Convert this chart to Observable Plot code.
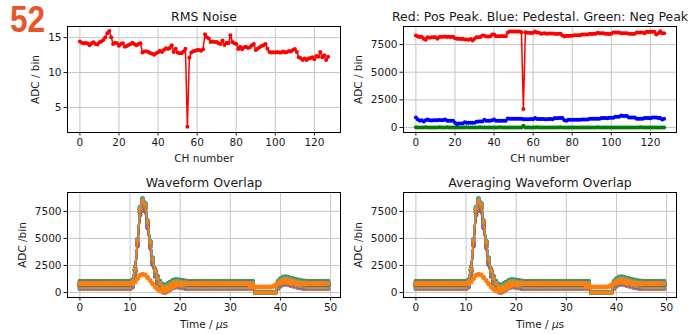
<!DOCTYPE html>
<html><head><meta charset="utf-8">
<script src="https://cdn.jsdelivr.net/npm/d3@7"></script>
<script src="https://cdn.jsdelivr.net/npm/@observablehq/plot@0.6"></script>
<style>
body{margin:0;background:#fff;}
#root{position:relative;width:693px;height:334px;overflow:hidden;background:#fff;}
.panel{position:absolute;}
#badge{position:absolute;left:10px;top:2px;font:bold 36px/36px "Liberation Sans",Arial,sans-serif;color:#e9552b;transform:scaleX(0.88);transform-origin:0 0;}
</style></head><body><div id="root"></div><script>
// ---------- data ----------
const rmsNoise = [14.43,14.28,14.2,14.23,14.14,13.9,14.19,14.33,14.09,14.0,
14.33,14.43,14.67,15.05,15.62,15.96,15.05,14.09,14.28,14.19,
13.85,14.09,14.19,13.7,13.8,13.95,14.09,14.28,14.04,13.9,
14.09,14.19,12.85,13.0,13.04,12.94,12.8,12.7,12.56,12.75,
12.9,13.13,12.94,13.23,13.47,13.37,13.52,13.9,12.94,13.42,
12.85,12.75,12.75,13.0,13.42,2.22,12.13,12.85,13.04,13.13,
13.23,13.23,13.13,13.33,15.48,15.05,14.86,14.38,14.43,14.38,
14.38,14.19,14.09,14.57,13.95,14.28,14.19,15.33,14.38,14.19,
14.09,13.37,13.7,13.33,13.61,13.7,13.52,13.61,13.9,14.09,
13.23,13.42,13.61,13.8,13.9,14.09,13.42,12.94,12.85,12.9,
12.85,12.94,12.85,12.85,13.0,12.85,12.94,13.09,13.0,13.23,
13.37,12.94,12.18,12.03,11.79,11.99,11.79,11.99,12.08,12.18,
11.89,12.37,12.27,12.94,12.18,12.46,11.79,12.27];

const posPeak = [8316,8230,8180,8200,8013,7923,8165,8104,8165,8150,
8170,8013,8190,8210,8200,8220,8190,8195,8180,8200,
8074,8013,8030,8000,8020,7950,7960,7930,8010,7862,
8013,8165,8150,8180,8316,8290,8225,8230,8220,8407,
8400,8255,8260,8250,8270,8255,8250,8588,8679,8670,
8680,8679,8670,8690,8618,1663,8618,8558,8560,8550,
8558,8679,8600,8560,8467,8500,8520,8480,8510,8500,
8490,8470,8460,8470,8467,8316,8225,8290,8280,8300,
8290,8346,8340,8350,8346,8407,8400,8410,8407,8467,
8460,8470,8467,8558,8530,8520,8528,8467,8470,8460,
8467,8588,8580,8590,8588,8530,8520,8528,8530,8467,
8470,8460,8467,8588,8580,8590,8588,8528,8649,8640,
8650,8649,8660,8407,8528,8709,8528,8528];

const pedestal = [907,726,605,665,544,665,726,650,640,650,
660,665,670,665,680,726,605,600,610,605,
423,302,363,370,363,484,423,430,420,423,
423,514,544,540,544,695,605,600,610,665,
726,605,600,610,605,600,605,816,786,790,
786,780,786,790,786,756,756,750,756,760,
756,847,770,760,760,770,756,750,765,760,
756,847,840,847,850,847,665,605,695,700,
695,690,695,700,695,726,720,726,730,786,
780,786,790,786,786,847,850,847,840,877,
877,870,968,960,968,1089,1028,1030,1028,907,
910,907,900,786,790,786,780,847,850,847,
840,907,900,907,847,850,726,786];

const negPeak = [12,-6,8,-10,5,14,-4,2,-12,7,
9,-3,11,-8,4,-5,13,-9,6,1,
-7,10,-2,8,-11,3,12,-6,5,-3,
9,-8,4,11,-5,2,-10,7,3,-4,
8,-9,6,12,-3,5,-7,10,-2,4,
-6,9,-4,7,3,150,-5,8,-10,6,
2,-7,11,-3,5,-8,9,4,-6,10,
-2,7,-9,3,12,-5,6,-4,8,-11,
4,9,-3,6,-8,2,10,-6,5,-2,
7,-9,3,11,-4,6,-7,8,1,-5,
10,-3,5,-8,9,2,-6,7,-10,4,
8,-2,6,-9,3,11,-5,4,-7,9,
-3,6,-8,2,10,-4,5,-6];

// pulse template (fraction of peak above pedestal), one value per 0.5 us sample; null = negative-peak window
const pulseShape = [0,0,0,0,0,0,0,0,0,0,0,0,0,0,0,0,0,0,0,0,0,
0.02,0.17,0.52,0.9,1.0,0.95,0.74,0.5,0.29,0.15,0.06,0.0,-0.04,-0.045,-0.03,-0.01,0.01,0.02,0.02,0.015,0.01,0.005,
0,0,0,0,0,0,0,0,0,0,0,0,0,0,0,0,0,0,0,0,0,0,0,0,0,0,0,
null,null,null,null,null,null,null,null,null,
0.0,0.03,0.05,0.055,0.05,0.04,0.032,0.024,0.016,0.01,0.005,0.002,
0,0,0,0,0,0,0,0,0];

// dead channel (CH 55) waveform
const deadChannel = 55;
const deadWave = [800,800,800,800,800,800,800,800,800,800,800,800,800,800,800,800,800,800,800,800,800,
820,1000,1300,1600,1700,1620,1400,1100,800,500,300,170,130,150,250,400,550,650,720,760,780,800,
800,800,800,800,800,800,800,800,800,800,800,800,800,800,800,800,800,800,800,800,800,800,800,800,800,
500,500,500,500,500,500,500,500,500,
560,700,850,950,1000,980,940,900,870,840,820,810,
800,800,800,800,800,800,800,800,800];

const chTicks = [0,20,40,60,80,100,120];
const rmsTicks = [5,10,15];
const adcTicks = [0,2500,5000,7500];
const timeTicks = [0,10,20,30,40,50];
const tab10 = ["#1f77b4","#ff7f0e","#2ca02c","#d62728","#9467bd","#8c564b","#e377c2","#7f7f7f","#bcbd22","#17becf"];

// ---------- derived tables ----------
const channels = d3.range(rmsNoise.length);
const times = pulseShape.map((_, k) => k * 0.5);
const rmsRows = channels.map(c => ({ch: c, v: rmsNoise[c]}));
const posRows = channels.map(c => ({ch: c, v: posPeak[c]}));
const pedRows = channels.map(c => ({ch: c, v: pedestal[c]}));
const negRows = channels.map(c => ({ch: c, v: negPeak[c]}));
function waveRows(c) {
  if (c === deadChannel) return times.map((t, k) => ({t, v: deadWave[k]}));
  return times.map((t, k) => ({t, v: pulseShape[k] === null ? negPeak[c] : pedestal[c] + (posPeak[c] - pedestal[c]) * pulseShape[k]}));
}
function waveMarks() {
  const m = [];
  for (const c of channels) {
    if (c === deadChannel) continue;
    const rows = waveRows(c), col = tab10[(c + 4) % 10];
    m.push(Plot.line(rows, {x: "t", y: "v", stroke: col, strokeWidth: 1.5}));
    m.push(Plot.dot(rows, {x: "t", y: "v", fill: col, r: 2.1}));
  }
  const rows = waveRows(deadChannel);
  m.push(Plot.line(rows, {x: "t", y: "v", stroke: "#ff7f0e", strokeWidth: 2}));
  m.push(Plot.dot(rows, {x: "t", y: "v", fill: "#ff7f0e", r: 2.5}));
  return m;
}
function seriesMarks(rows, col) {
  return [Plot.line(rows, {x: "ch", y: "v", stroke: col, strokeWidth: 1.5}),
          Plot.dot(rows, {x: "ch", y: "v", fill: col, r: 2})];
}

const root = document.getElementById("root");
function panel(o) {
  const svg = Plot.plot({
    width: o.width, height: o.height,
    marginLeft: o.ml, marginRight: o.mr, marginTop: o.mt, marginBottom: o.mb,
    style: {fontFamily: "DejaVu Sans", fontSize: "10.5px", color: "#1a1a1a", background: "transparent", overflow: "visible"},
    x: {domain: o.xDomain, ticks: o.xTicks, tickSize: 3.5, tickPadding: 2.5, tickFormat: d => String(d), label: null},
    y: {domain: o.yDomain, ticks: o.yTicks, tickSize: 3.5, tickPadding: 2.5, tickFormat: d => String(d), label: null},
    marks: [
      Plot.ruleX(o.xTicks, {stroke: "#c6c6c6", strokeWidth: 1}),
      Plot.ruleY(o.yTicks, {stroke: "#c6c6c6", strokeWidth: 1}),
      ...o.marks,
      Plot.frame({stroke: "#000", strokeWidth: 1}),
      Plot.text([o.title], {frameAnchor: "top", textAnchor: "middle", lineAnchor: "bottom", dy: -6, fontSize: 12.5, fill: "#1a1a1a"}),
      Plot.text([o.xLabel], {frameAnchor: "bottom", textAnchor: "middle", lineAnchor: "middle", dy: o.xLabelDy, fontSize: 10.5, fill: "#1a1a1a"}),
      Plot.text([o.yLabel], {frameAnchor: "left", textAnchor: "middle", lineAnchor: "middle", rotate: -90, dx: o.yLabelDx, fontSize: 10.5, fill: "#1a1a1a"})
    ]
  });
  svg.querySelectorAll("text").forEach(t => {
    if (t.textContent === "Time / μs" && t.children.length === 0) {
      t.textContent = "Time / ";
      const ts = document.createElementNS("http://www.w3.org/2000/svg", "tspan");
      ts.setAttribute("font-style", "italic");
      ts.textContent = "μ";
      t.appendChild(ts);
      t.appendChild(document.createTextNode("s"));
    }
  });
  const div = document.createElement("div");
  div.className = "panel";
  div.style.left = o.left + "px";
  div.style.top = o.top + "px";
  div.appendChild(svg);
  root.appendChild(div);
}

const chDomain = [-6.35, 133.35];
const tDomain = [-2.475, 51.975];

panel({left: 0, top: 0, width: 346, height: 167, ml: 67, mr: 6, mt: 26, mb: 35,
  xDomain: chDomain, xTicks: chTicks, yDomain: [1.41, 16.59], yTicks: rmsTicks,
  title: "RMS Noise", xLabel: "CH number", xLabelDy: 26.5, yLabel: "ADC / bin", yLabelDx: -32,
  marks: seriesMarks(rmsRows, "#ff0000")});

panel({left: 346, top: 0, width: 347, height: 167, ml: 57, mr: 17, mt: 26, mb: 35,
  xDomain: chDomain, xTicks: chTicks, yDomain: [-453, 9132], yTicks: adcTicks,
  title: "Red: Pos Peak. Blue: Pedestal. Green: Neg Peak", xLabel: "CH number", xLabelDy: 26.5, yLabel: "ADC / bin", yLabelDx: -45,
  marks: [...seriesMarks(posRows, "#ff0000"), ...seriesMarks(pedRows, "#0000ff"), ...seriesMarks(negRows, "#008000")]});

panel({left: 0, top: 167, width: 346, height: 167, ml: 67, mr: 6, mt: 25, mb: 37,
  xDomain: tDomain, xTicks: timeTicks, yDomain: [-460, 9246], yTicks: adcTicks,
  title: "Waveform Overlap", xLabel: "Time / μs", xLabelDy: 27, yLabel: "ADC /bin", yLabelDx: -45,
  marks: waveMarks()});

panel({left: 346, top: 167, width: 347, height: 167, ml: 57, mr: 17, mt: 25, mb: 37,
  xDomain: tDomain, xTicks: timeTicks, yDomain: [-460, 9246], yTicks: adcTicks,
  title: "Averaging Waveform Overlap", xLabel: "Time / μs", xLabelDy: 27, yLabel: "ADC /bin", yLabelDx: -45,
  marks: waveMarks()});

const badge = document.createElement("div");
badge.id = "badge";
badge.textContent = "52";
root.appendChild(badge);
</script></body></html>
